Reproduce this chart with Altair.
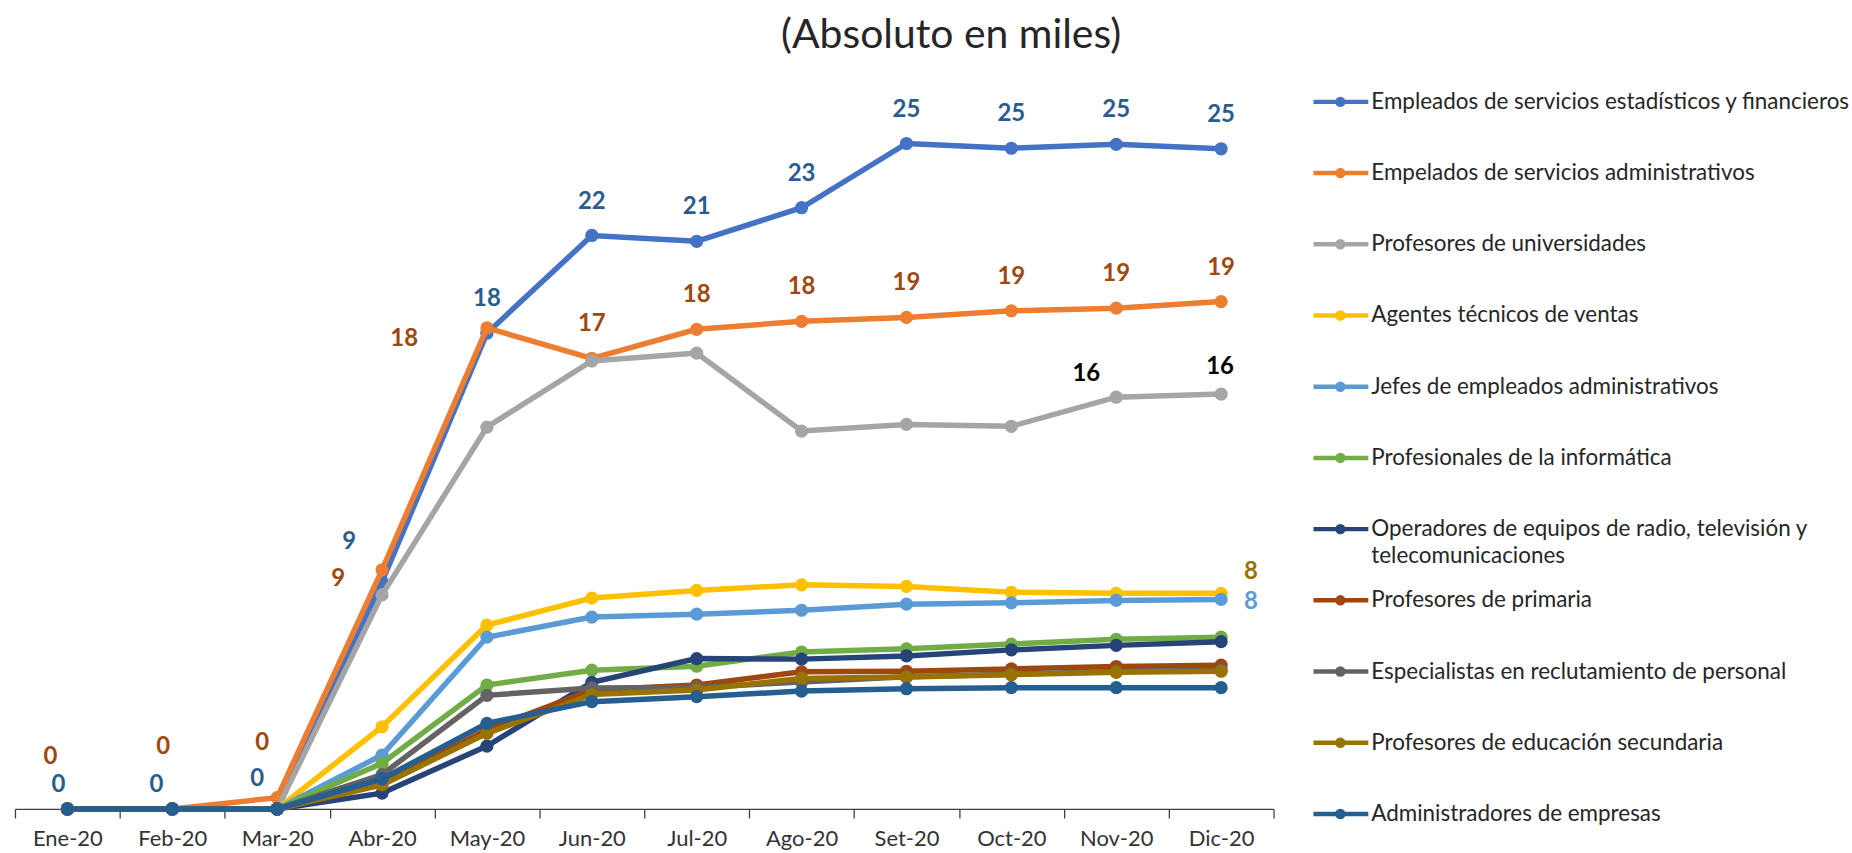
import altair as alt
import pandas as pd
import json

meses = ["Ene-20", "Feb-20", "Mar-20", "Abr-20", "May-20", "Jun-20",
         "Jul-20", "Ago-20", "Set-20", "Oct-20", "Nov-20", "Dic-20"]

series = [
    "Empleados de servicios estadísticos y financieros",
    "Empelados de servicios administrativos",
    "Profesores de universidades",
    "Agentes técnicos de ventas",
    "Jefes de empleados administrativos",
    "Profesionales de la informática",
    "Operadores de equipos de radio, televisión y telecomunicaciones",
    "Profesores de primaria",
    "Especialistas en reclutamiento de personal",
    "Profesores de educación secundaria",
    "Administradores de empresas",
]

colores = ["#4472C4", "#ED7D31", "#A5A5A5", "#FFC000", "#5B9BD5", "#70AD47",
           "#264478", "#9E480E", "#636363", "#997300", "#255E91"]

v_estadisticos = [0, 0, 0, 8.6, 18.0, 21.7, 21.48, 22.75, 25.18, 25.0, 25.15, 24.98]
v_administrativos = [0, 0, 0.43, 9.05, 18.2, 17.05, 18.15, 18.45, 18.6, 18.85, 18.95, 19.2]
v_universidades = [0, 0, 0, 8.1, 14.45, 16.95, 17.25, 14.3, 14.55, 14.48, 15.58, 15.7]
v_ventas = [0, 0, 0, 3.11, 6.96, 7.98, 8.27, 8.48, 8.42, 8.2, 8.16, 8.16]
v_jefes = [0, 0, 0, 2.04, 6.5, 7.26, 7.37, 7.52, 7.75, 7.8, 7.89, 7.93]
v_informatica = [0, 0, 0, 1.73, 4.69, 5.25, 5.40, 5.94, 6.06, 6.24, 6.42, 6.5]
v_operadores = [0, 0, 0, 0.6, 2.38, 4.79, 5.69, 5.67, 5.79, 6.02, 6.19, 6.33]
v_primaria = [0, 0, 0, 0.97, 3.0, 4.5, 4.69, 5.19, 5.21, 5.3, 5.39, 5.44]
v_reclutamiento = [0, 0, 0, 1.3, 4.3, 4.58, 4.6, 4.8, 5.0, 5.1, 5.2, 5.25]
v_secundaria = [0, 0, 0, 0.91, 2.86, 4.33, 4.5, 4.94, 4.99, 5.08, 5.17, 5.21]
v_empresas = [0, 0, 0, 1.14, 3.24, 4.06, 4.25, 4.46, 4.55, 4.59, 4.59, 4.59]

valores = [v_estadisticos, v_administrativos, v_universidades, v_ventas, v_jefes,
           v_informatica, v_operadores, v_primaria, v_reclutamiento, v_secundaria,
           v_empresas]

titulo = "(Absoluto en miles)"

rows = []
for s, vals in zip(series, valores):
    for m, v in zip(meses, vals):
        rows.append({"serie": s, "mes": m, "valor": v})
df = pd.DataFrame(rows)
df_leyenda = pd.DataFrame({"serie": series})

FONT = "Lato"

x_enc = alt.X(
    "mes:N", sort=meses, bandPosition=0.5,
    scale=alt.Scale(type="band", domain=meses, paddingInner=0, paddingOuter=0),
    axis=alt.Axis(title=None, labelAngle=0, tickBand="extent", grid=False,
                  domainColor="#404040", domainWidth=1.3, tickColor="#404040",
                  tickWidth=1.3, tickSize=9, labelFont=FONT, labelFontSize=22,
                  labelColor="#333333", labelPadding=11),
)
y_enc = alt.Y("valor:Q", scale=alt.Scale(domain=[0, 28], nice=False), axis=None)
color_enc = alt.Color("serie:N", scale=alt.Scale(domain=series, range=colores), legend=None)

base = alt.Chart(df)
layers = []
for s in series:
    sub = base.transform_filter(alt.datum.serie == s)
    layers.append(sub.mark_line(strokeWidth=5.5).encode(x=x_enc, y=y_enc, color=color_enc))
    layers.append(sub.mark_point(filled=True, size=175, opacity=1).encode(x=x_enc, y=y_enc, color=color_enc))


def etiquetas(serie, meses_sel, color, dx=0, dy=-34):
    expr = "datum.serie == {} && indexof({}, datum.mes) >= 0".format(
        json.dumps(serie, ensure_ascii=False), json.dumps(meses_sel))
    return base.transform_filter(expr).mark_text(
        font=FONT, fontSize=24, fontWeight="bold", color=color,
        dx=dx, dy=dy, align="center", baseline="middle").encode(
        x=x_enc, y=y_enc, text=alt.Text("valor:Q", format=".0f"))


C_AZUL = "#2A5D8F"
C_NAR = "#9E480E"
layers += [
    etiquetas(series[0], ["Ene-20"], C_AZUL, dx=-9, dy=-24),
    etiquetas(series[0], ["Feb-20"], C_AZUL, dx=-16, dy=-24),
    etiquetas(series[0], ["Mar-20"], C_AZUL, dx=-20, dy=-30),
    etiquetas(series[0], ["Abr-20"], C_AZUL, dx=-33, dy=-40),
    etiquetas(series[0], meses[4:], C_AZUL, dy=-34),
    etiquetas(series[1], ["Ene-20"], C_NAR, dx=-17, dy=-52),
    etiquetas(series[1], ["Feb-20"], C_NAR, dx=-9, dy=-62),
    etiquetas(series[1], ["Mar-20"], C_NAR, dx=-15, dy=-55),
    etiquetas(series[1], ["Abr-20"], C_NAR, dx=-44, dy=9),
    etiquetas(series[1], ["May-20"], C_NAR, dx=-83, dy=11),
    etiquetas(series[1], meses[5:], C_NAR, dy=-34),
    etiquetas(series[2], ["Nov-20"], "#000000", dx=-30, dy=-23),
    etiquetas(series[2], ["Dic-20"], "#000000", dx=-1, dy=-27),
    etiquetas(series[3], ["Dic-20"], "#997300", dx=30, dy=-21),
    etiquetas(series[4], ["Dic-20"], "#5B9BD5", dx=30, dy=3),
]

principal = alt.layer(*layers).properties(width=1262, height=742)

y_ley = alt.Y("serie:N", sort=series, axis=None,
              scale=alt.Scale(type="point", domain=series, range=[33, 747], padding=0))
color_ley = alt.Color("serie:N", scale=alt.Scale(domain=series, range=colores), legend=None)
bl = alt.Chart(df_leyenda)
ley_linea = bl.mark_rule(strokeWidth=4.5).encode(
    x=alt.value(0), x2=alt.value(55), y=y_ley, color=color_ley)
ley_punto = bl.mark_point(filled=True, size=110, opacity=1).encode(
    x=alt.value(27), y=y_ley, color=color_ley)
ley_texto = bl.transform_calculate(
    etiqueta="replace(datum.serie, 'televisión y ', 'televisión y\\n')"
).mark_text(font=FONT, fontSize=22.5, color="#262626", align="left", baseline="top",
            dy=-11, lineBreak="\n", lineHeight=27).encode(
    x=alt.value(58), y=y_ley, text="etiqueta:N")
leyenda = alt.layer(ley_linea, ley_punto, ley_texto).properties(width=540, height=742)

chart = alt.hconcat(principal, leyenda, spacing=36).resolve_scale(
    y="independent", color="independent", x="independent"
).properties(
    title=alt.TitleParams(titulo, font=FONT, fontSize=41, fontWeight="normal",
                          color="#262626", anchor="middle", offset=12, dx=18),
    padding={"left": 14, "top": 14, "right": 0, "bottom": 4},
    background="white",
).configure_view(stroke=None)

chart.save("out.html", embed_options={"renderer": "svg", "actions": False})
